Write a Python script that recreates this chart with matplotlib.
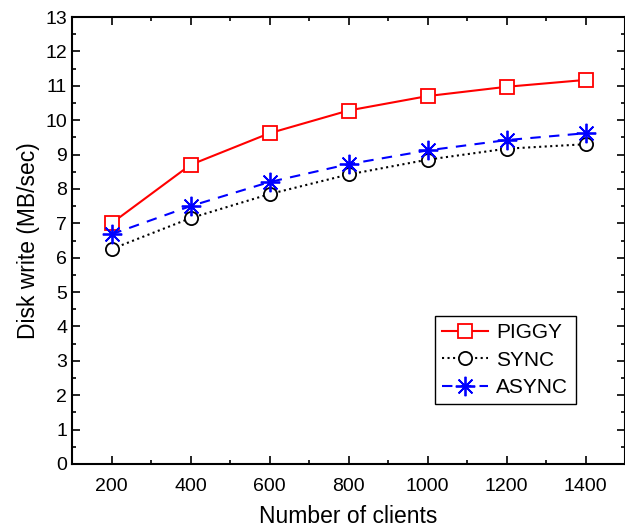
import matplotlib.pyplot as plt
from matplotlib.ticker import MultipleLocator

plt.rcParams['font.family'] = ['Liberation Sans', 'DejaVu Sans']

clients = [200, 400, 600, 800, 1000, 1200, 1400]
piggy = [7.0, 8.7, 9.62, 10.28, 10.7, 10.97, 11.17]
sync = [6.25, 7.15, 7.85, 8.42, 8.85, 9.17, 9.3]
async_ = [6.68, 7.5, 8.2, 8.72, 9.12, 9.42, 9.62]

fig = plt.figure(figsize=(6.25, 5.3), dpi=100)
ax = fig.add_axes([72 / 625, 66 / 530, 553 / 625, 447 / 530])

ax.plot(clients, piggy, color='red', linestyle='-', linewidth=1.5,
        marker='s', markersize=9.5, markerfacecolor='white', markeredgecolor='red',
        markeredgewidth=1.3, label='PIGGY')
ax.plot(clients, sync, color='black', linestyle=':', linewidth=1.5,
        marker='o', markersize=9.5, markerfacecolor='white', markeredgecolor='black',
        markeredgewidth=1.3, label='SYNC')
ax.plot(clients, async_, color='blue', linestyle=(0, (5, 4)), linewidth=1.5,
        marker=(8, 2, 0), markersize=14, markeredgecolor='blue',
        markeredgewidth=1.3, label='ASYNC')

ax.set_xlim(100, 1500)
ax.set_ylim(0, 13)
ax.xaxis.set_major_locator(MultipleLocator(200))
ax.xaxis.set_minor_locator(MultipleLocator(100))
ax.yaxis.set_major_locator(MultipleLocator(1))
ax.yaxis.set_minor_locator(MultipleLocator(0.5))
ax.set_xticks(clients)
ax.tick_params(which='both', direction='in', top=True, right=True, width=1.2, labelsize=14)
ax.tick_params(which='major', length=6)
ax.tick_params(which='minor', length=3)
ax.tick_params(axis='x', pad=10)
for s in ax.spines.values():
    s.set_linewidth(1.5)

ax.set_xlabel('Number of clients', fontsize=16.5, labelpad=7)
ax.set_ylabel('Disk write (MB/sec)', fontsize=16.5, labelpad=4)

leg = ax.legend(loc='upper left', bbox_to_anchor=(0.656, 0.331), fontsize=15,
                frameon=True, fancybox=False, edgecolor='black', framealpha=1,
                handlelength=2.2, borderpad=0.35, labelspacing=0.4, handletextpad=0.4,
                borderaxespad=0)
leg.get_frame().set_linewidth(1.0)

fig.savefig('out.png', dpi=100)
